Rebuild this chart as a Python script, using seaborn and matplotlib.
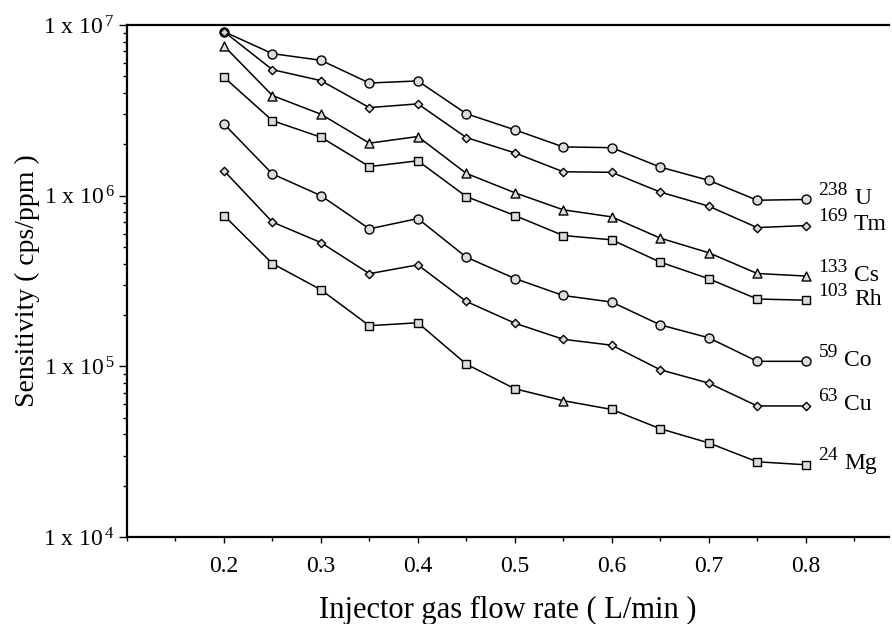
import matplotlib
matplotlib.use("Agg")
import matplotlib.pyplot as plt
import matplotlib.ticker as mticker
import numpy as np
import pandas as pd
import seaborn as sns

# ---------------- data ----------------
flow = [0.20, 0.25, 0.30, 0.35, 0.40, 0.45, 0.50, 0.55, 0.60, 0.65, 0.70, 0.75, 0.80]

U238 = [9.14e6, 6.79e6, 6.21e6, 4.57e6, 4.70e6, 3.02e6, 2.43e6, 1.93e6, 1.91e6, 1.47e6, 1.23e6, 9.4e5, 9.5e5]
Tm169 = [9.14e6, 5.47e6, 4.72e6, 3.28e6, 3.45e6, 2.19e6, 1.78e6, 1.38e6, 1.37e6, 1.05e6, 8.68e5, 6.5e5, 6.68e5]
Cs133 = [7.54e6, 3.86e6, 3.00e6, 2.03e6, 2.22e6, 1.35e6, 1.04e6, 8.26e5, 7.51e5, 5.64e5, 4.63e5, 3.50e5, 3.38e5]
Rh103 = [4.94e6, 2.75e6, 2.20e6, 1.48e6, 1.60e6, 9.88e5, 7.65e5, 5.84e5, 5.51e5, 4.08e5, 3.26e5, 2.48e5, 2.44e5]
Co59 = [2.63e6, 1.34e6, 1.00e6, 6.39e5, 7.34e5, 4.36e5, 3.27e5, 2.60e5, 2.38e5, 1.75e5, 1.47e5, 1.07e5, 1.07e5]
Cu63 = [1.40e6, 7.00e5, 5.31e5, 3.49e5, 3.93e5, 2.40e5, 1.79e5, 1.44e5, 1.33e5, 9.55e4, 7.98e4, 5.86e4, 5.86e4]
Mg24 = [7.65e5, 4.00e5, 2.81e5, 1.73e5, 1.80e5, 1.03e5, 7.39e4, 6.29e4, 5.59e4, 4.31e4, 3.56e4, 2.76e4, 2.65e4]

elements = ["U", "Tm", "Cs", "Rh", "Co", "Cu", "Mg"]
masses = ["238", "169", "133", "103", "59", "63", "24"]
series = [U238, Tm169, Cs133, Rh103, Co59, Cu63, Mg24]
marker_kind = ["circle", "diamond", "triangle", "square", "circle", "diamond", "square"]
# the reference shows one odd triangle on the Mg curve at 0.55 L/min
Mg_point_markers = ["square"] * 7 + ["triangle"] + ["square"] * 5

yticks = [1e4, 1e5, 1e6, 1e7]
ytick_labels = [r"1 x 10$^{\,4}$", r"1 x 10$^{\,5}$", r"1 x 10$^{\,6}$", r"1 x 10$^{\,7}$"]
xticks = [0.2, 0.3, 0.4, 0.5, 0.6, 0.7, 0.8]
xtick_labels = ["0.2", "0.3", "0.4", "0.5", "0.6", "0.7", "0.8"]

rows = []
for el, m, vals, mk in zip(elements, masses, series, marker_kind):
    pm = Mg_point_markers if el == "Mg" else [mk] * len(vals)
    for x, v, k in zip(flow, vals, pm):
        rows.append(dict(flow=x, sens=v, element=el, mass=m, marker=k))
df = pd.DataFrame(rows)

# ---------------- style ----------------
sns.set_theme(style="ticks")
plt.rcParams["font.family"] = ["Liberation Serif", "DejaVu Serif"]
plt.rcParams["mathtext.fontset"] = "custom"
plt.rcParams["mathtext.rm"] = "Liberation Serif"
plt.rcParams["mathtext.it"] = "Liberation Serif:italic"
plt.rcParams["mathtext.bf"] = "Liberation Serif:bold"
for key in ["text.color", "axes.labelcolor", "xtick.color", "ytick.color",
            "xtick.labelcolor", "ytick.labelcolor", "axes.edgecolor"]:
    plt.rcParams[key] = "black"

fig = plt.figure(figsize=(8.92, 6.24), dpi=100)
ax = fig.add_axes([0.1424, 0.1394, 0.8542, 0.8206])

sns.lineplot(data=df, x="flow", y="sens", units="element", estimator=None,
             color="black", linewidth=1.1, ax=ax, legend=False, sort=False)

marker_map = {"circle": ("o", 42), "diamond": ("D", 18), "triangle": ("^", 42), "square": ("s", 36)}
for kind, (mk, s) in marker_map.items():
    sub = df[df["marker"] == kind]
    sns.scatterplot(data=sub, x="flow", y="sens", marker=mk, s=s,
                    color="#dcdcdc", edgecolor="black", linewidth=1.0,
                    ax=ax, legend=False, zorder=3)

# series labels
for el, m, vals in zip(elements, masses, series):
    ax.annotate(m, xy=(flow[-1], vals[-1]), xytext=(13, 9), textcoords="offset pixels",
                ha="left", va="center", fontsize=14, color="black")
    ax.annotate(el, xy=(flow[-1], vals[-1]), xytext=(13 + 9.8 * len(m) + 6, 1),
                textcoords="offset pixels", ha="left", va="center", fontsize=17, color="black")

ax.set_yscale("log")
ax.set_ylim(1e4, 1e7)
ax.set_xlim(0.1, 0.886)

ax.set_yticks(yticks)
ax.set_yticklabels(ytick_labels, fontsize=17)
ax.yaxis.set_minor_locator(mticker.LogLocator(base=10, subs=np.arange(2, 10)))
ax.yaxis.set_minor_formatter(mticker.NullFormatter())

ax.set_xticks(xticks)
ax.set_xticklabels(xtick_labels, fontsize=17)
ax.xaxis.set_minor_locator(mticker.MultipleLocator(0.05))

ax.tick_params(axis="both", which="major", direction="out", length=4, width=1.0, color="black")
ax.tick_params(axis="y", which="major", length=6, pad=3)
ax.tick_params(axis="both", which="minor", direction="out", length=3, width=1.0, color="black")
ax.tick_params(axis="x", which="major", pad=10)

for side in ["left", "top", "bottom"]:
    ax.spines[side].set_color("black")
    ax.spines[side].set_linewidth(1.6)
ax.spines["right"].set_visible(False)

ax.set_xlabel("Injector gas flow rate ( L/min )", fontsize=22, labelpad=13)
ax.set_ylabel("Sensitivity ( cps/ppm )", fontsize=20, labelpad=2)

fig.savefig("out.png", dpi=100)
